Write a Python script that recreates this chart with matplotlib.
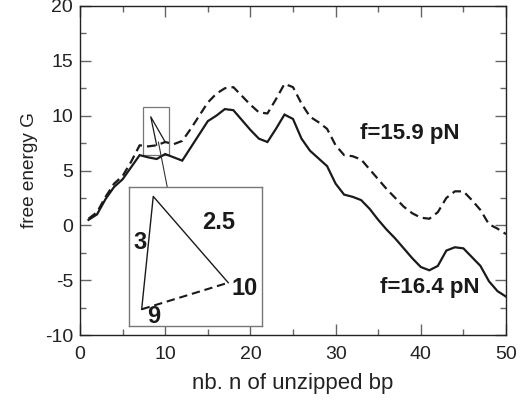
import numpy as np
import matplotlib
matplotlib.use("Agg")
import matplotlib.pyplot as plt
from matplotlib.ticker import MultipleLocator
from matplotlib.patches import Rectangle

plt.rcParams['font.family'] = ['Liberation Sans', 'DejaVu Sans']
plt.rcParams['axes.unicode_minus'] = False

# number of unzipped base pairs
n = np.arange(1, 51)
# free energy at f = 16.4 pN (solid)
G_164 = [0.5, 1.0, 2.4, 3.5, 4.2, 5.3, 6.4, 6.2, 6.05, 6.5,
         6.2, 5.9, 7.1, 8.3, 9.5, 10.0, 10.6, 10.5, 9.6, 8.7,
         7.9, 7.6, 8.8, 10.1, 9.7, 7.9, 6.8, 6.1, 5.4, 3.8,
         2.8, 2.6, 2.3, 1.5, 0.5, -0.4, -1.2, -2.1, -3.0, -3.8,
         -4.1, -3.7, -2.3, -2.0, -2.1, -2.9, -3.7, -5.1, -6.0, -6.5]
# free energy at f = 15.9 pN (dashed)
G_159 = [0.6, 1.2, 2.6, 3.8, 4.5, 5.8, 7.3, 7.2, 7.3, 7.6,
         7.4, 7.7, 8.8, 10.0, 11.2, 12.0, 12.5, 12.6, 11.8, 11.0,
         10.3, 10.2, 11.5, 12.9, 12.6, 11.1, 9.9, 9.4, 8.8, 7.3,
         6.4, 6.3, 6.0, 5.1, 4.2, 3.3, 2.5, 1.7, 1.1, 0.7,
         0.6, 1.2, 2.5, 3.1, 3.1, 2.3, 1.4, 0.1, -0.3, -0.8]

labels = ["f=15.9 pN", "f=16.4 pN"]
# barrier apex between n=9 and n=10 in main plot
apex_n, apex_G = 8.3, 9.9
# inset schematic triangle (inset coordinates): apex, n=9, n=10
tri_x = [0.18, 0.093, 0.744]
tri_y = [0.93, 0.118, 0.309]
tri_labels = ["3", "2.5", "9", "10"]

fig = plt.figure(figsize=(5.25, 4.0), dpi=100)
ax = fig.add_axes([0.1524, 0.1625, 0.8114, 0.8225])

ax.plot(n, G_164, color='#1a1a1a', lw=1.6, solid_joinstyle='miter')
ax.plot(n, G_159, color='#1a1a1a', lw=1.6, dashes=(4, 2.3))

ax.set_xlim(0, 50)
ax.set_ylim(-10, 20)
ax.xaxis.set_major_locator(MultipleLocator(10))
ax.xaxis.set_minor_locator(MultipleLocator(5))
ax.yaxis.set_major_locator(MultipleLocator(5))
ax.yaxis.set_minor_locator(MultipleLocator(2.5))
ax.tick_params(which='both', direction='in', top=True, right=True,
               color='#666666', labelcolor='#222222', labelsize=14)
ax.tick_params(which='major', length=8, width=1.0)
ax.tick_params(which='minor', length=4, width=1.0)
ax.tick_params(axis='x', pad=8)
ax.tick_params(axis='y', pad=5)
for s in ax.spines.values():
    s.set_color('#222222')
    s.set_linewidth(1.0)

ax.set_xlabel("nb. n of unzipped bp", fontsize=16, color='#222222', labelpad=7)
ax.set_ylabel("free energy G", fontsize=13.7, color='#222222', labelpad=5)

ax.text(38.7, 8.4, labels[0], fontsize=16, fontweight='bold',
        ha='center', va='center', color='#1a1a1a')
ax.text(41.0, -5.7, labels[1], fontsize=16, fontweight='bold',
        ha='center', va='center', color='#1a1a1a')

# small zoom box and triangle in main plot
ax.add_patch(Rectangle((7.36, 6.43), 3.09, 4.39, fill=False,
                       edgecolor='#777777', lw=0.9))
i9, i10 = 8, 9
ax.plot([n[i9], apex_n, n[i10]], [G_159[i9], apex_G, G_159[i10]],
        color='#1a1a1a', lw=0.9)
ax.annotate("", xy=(10.45, 2.65), xytext=(9.2, 7.6),
            arrowprops=dict(arrowstyle='->', lw=0.8, color='#333333',
                            mutation_scale=12, shrinkA=0, shrinkB=0))

# inset
ins = fig.add_axes([0.2463, 0.1858, 0.2533, 0.3475])
ins.set_xlim(0, 1)
ins.set_ylim(0, 1)
ins.set_xticks([])
ins.set_yticks([])
for s in ins.spines.values():
    s.set_color('#777777')
    s.set_linewidth(1.0)
ins.plot([tri_x[1], tri_x[0], tri_x[2]], [tri_y[1], tri_y[0], tri_y[2]],
         color='#1a1a1a', lw=1.0)
ins.plot([tri_x[1], tri_x[2]], [tri_y[1], tri_y[2]], color='#1a1a1a',
         lw=1.5, dashes=(4, 2.3))
fs_in = 17
ins.text(0.08, 0.60, tri_labels[0], fontsize=fs_in, fontweight='bold',
         ha='center', va='center', color='#1a1a1a')
ins.text(0.67, 0.74, tri_labels[1], fontsize=fs_in, fontweight='bold',
         ha='center', va='center', color='#1a1a1a')
ins.text(0.18, 0.065, tri_labels[2], fontsize=fs_in, fontweight='bold',
         ha='center', va='center', color='#1a1a1a')
ins.text(0.87, 0.27, tri_labels[3], fontsize=fs_in, fontweight='bold',
         ha='center', va='center', color='#1a1a1a')

fig.savefig("out.png", dpi=100)
